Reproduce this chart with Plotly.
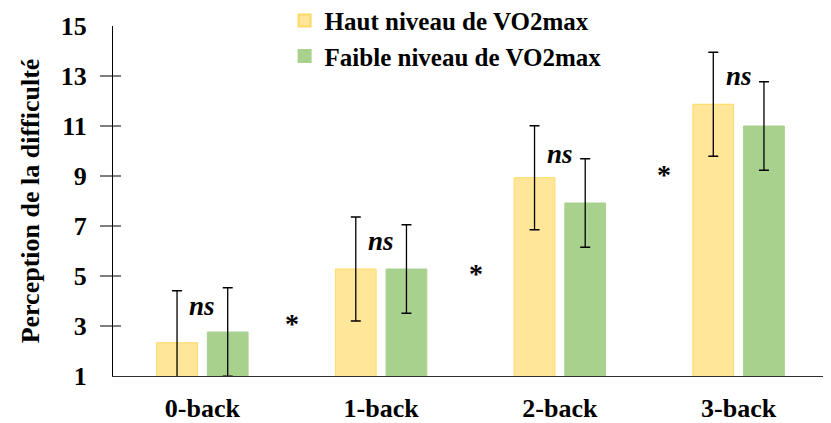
import plotly.graph_objects as go

categories = ["0-back", "1-back", "2-back", "3-back"]
haut_values = [2.33, 5.28, 8.93, 11.87]
haut_err = [2.08, 2.08, 2.08, 2.08]
faible_values = [2.76, 5.28, 7.92, 11.0]
faible_err = [1.77, 1.77, 1.77, 1.77]
series_names = ["Haut niveau de VO2max", "Faible niveau de VO2max"]
y_ticks = [1, 3, 5, 7, 9, 11, 13, 15]
y_tick_marks = [3, 5, 7, 9, 11, 13]

ns_x = categories
ns_y = [3.8, 6.42, 9.9, 13.0]
star_x = [0.5, 1.53, 2.58]
star_y = [3.1, 5.1, 9.06]

FONT = "Liberation Serif"

# page body has an 8px margin: the figure is sized to fill the rest of the window
W, H = 823, 415
ML, MR, MT, MB = 105, 3, 18, 47

fig = go.Figure()
fig.add_trace(go.Bar(
    x=categories, y=haut_values, name=series_names[0],
    marker=dict(color="#FFE699", line=dict(color="#FFD966", width=1)),
    error_y=dict(type="data", array=haut_err, color="#000000", thickness=1.3, width=5),
    legendgroup="a",
))
fig.add_trace(go.Bar(
    x=categories, y=faible_values, name=series_names[1],
    marker=dict(color="#A9D18E", line=dict(color="#A9D18E", width=1)),
    error_y=dict(type="data", array=faible_err, color="#000000", thickness=1.3, width=5),
    legendgroup="b",
))

for cx, cy in zip(ns_x, ns_y):
    fig.add_annotation(x=cx, y=cy, text="ns", showarrow=False,
                       font=dict(family=FONT, size=27, color="#000", weight="bold", style="italic"))
for sx, sy in zip(star_x, star_y):
    fig.add_annotation(x=sx, y=sy, text="*", showarrow=False,
                       font=dict(family=FONT, size=28, color="#000", weight="bold"))

L = float(W - ML - MR)
for t in y_tick_marks:
    fig.add_shape(type="line", xref="paper", yref="y", x0=-13 / L, x1=8 / L, y0=t, y1=t,
                  line=dict(color="#000", width=1))

fig.update_layout(
    width=W, height=H,
    margin=dict(l=ML, r=MR, t=MT, b=MB, autoexpand=False),
    plot_bgcolor="white", paper_bgcolor="white",
    font=dict(family=FONT, color="#000", weight="bold"),
    barmode="group", bargap=0.433, bargroupgap=0.196,
    showlegend=True,
    legend=dict(x=0.24, y=1.081, xanchor="left", yanchor="top",
                font=dict(family=FONT, size=25, color="#000", weight="bold"),
                bgcolor="rgba(0,0,0,0)", tracegroupgap=0, itemsizing="constant"),
    xaxis=dict(showline=True, linecolor="#303030", linewidth=1.2, ticks="outside",
               ticklen=9, tickcolor="rgba(0,0,0,0)",
               tickfont=dict(family=FONT, size=26, color="#000", weight="bold"), showgrid=False),
    yaxis=dict(range=[1, 15], tickvals=y_ticks, showline=True, linecolor="#000",
               linewidth=1, ticks="outside", ticklen=20, tickcolor="rgba(0,0,0,0)",
               tickfont=dict(family=FONT, size=26, color="#000", weight="bold"), showgrid=False,
               zeroline=False,
               title=dict(text="Perception de la difficulté",
                          font=dict(family=FONT, size=26, color="#000", weight="bold"), standoff=13)),
)

fig.write_html("out.html")
